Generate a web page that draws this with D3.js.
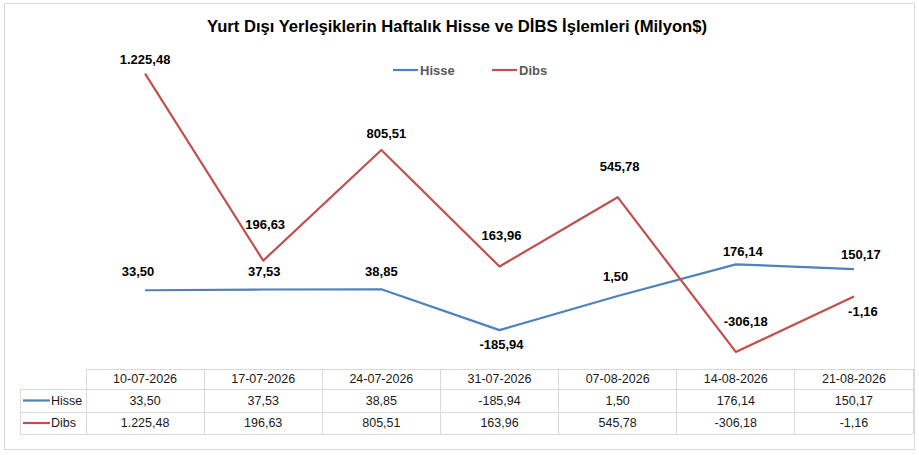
<!DOCTYPE html>
<html lang="tr">
<head>
    <meta charset="UTF-8">
    <title>Yurt Dışı Yerleşiklerin Haftalık Hisse ve DİBS İşlemleri</title>
    <script src="https://d3js.org/d3.v7.min.js"></script>
    <style>
        body { margin: 0; background: #fff; font-family: "Liberation Sans", Arial, sans-serif; }
        .lbl { font-size: 13px; font-weight: bold; fill: #000; }
        .tbl { font-size: 12.5px; fill: #1a1a1a; }
    </style>
</head>
<body>
    <svg id="chart" width="919" height="455"></svg>
    <script>
        // data
        let dates = ["10-07-2026", "17-07-2026", "24-07-2026", "31-07-2026", "07-08-2026", "14-08-2026", "21-08-2026"]
        let hisse = [33.50, 37.53, 38.85, -185.94, 1.50, 176.14, 150.17]
        let dibs = [1225.48, 196.63, 805.51, 163.96, 545.78, -306.18, -1.16]
        let seriesNames = ["Hisse", "Dibs"]

        // label nudges (px) relative to each point
        let hisseLabelDx = [-7, 1, 0, 2, -2, 7, 7]
        let hisseLabelDy = [-19, -18, -18, 14, -20, -13, -15]
        let dibsLabelDx = [0, 2, 5, 2, 2, 10, 9]
        let dibsLabelDy = [-14, -36, -16, -31, -31, -30, 15]

        let blue = "#4f81bd"
        let red = "#c0504d"
        let gridCol = "#d9d9d9"

        // Turkish number format: 1.225,48 and a plain hyphen for negatives
        let trLocale = d3.formatLocale({ decimal: ",", thousands: ".", grouping: [3], currency: ["", ""], minus: "-" })
        let fmt = trLocale.format(",.2f")

        let svg = d3.select("#chart")

        // outer border
        svg.append("rect").attr("x", 4.5).attr("y", 3.5).attr("width", 910).attr("height", 446)
            .attr("fill", "#fff").attr("stroke", gridCol)

        // title
        svg.append("text").attr("x", 457).attr("y", 32).attr("text-anchor", "middle")
            .attr("font-size", 16).attr("font-weight", "bold").attr("fill", "#000")
            .attr("textLength", 500).attr("lengthAdjust", "spacingAndGlyphs")
            .text("Yurt Dışı Yerleşiklerin Haftalık Hisse ve DİBS İşlemleri (Milyon$)")

        // legend
        let legendX = [393, 492]
        let colors = [blue, red]
        seriesNames.forEach((n, i) => {
            svg.append("line").attr("x1", legendX[i]).attr("x2", legendX[i] + 25)
                .attr("y1", 70).attr("y2", 70).attr("stroke", colors[i]).attr("stroke-width", 2.2)
            svg.append("text").attr("x", legendX[i] + 27).attr("y", 74.5)
                .attr("font-size", 13).attr("font-weight", "bold").attr("fill", "#595959").text(n)
        })

        // scales
        let x = d3.scaleBand().domain(dates).range([86, 913])
        let y = d3.scaleLinear().domain([-400, 1400]).range([369, 42])
        let cx = d => x(d) + x.bandwidth() / 2

        let line = d3.line().x((d, i) => cx(dates[i])).y(d => y(d))

        svg.append("path").datum(hisse).attr("d", line).attr("fill", "none")
            .attr("stroke", blue).attr("stroke-width", 2.2).attr("stroke-linejoin", "round")
        svg.append("path").datum(dibs).attr("d", line).attr("fill", "none")
            .attr("stroke", red).attr("stroke-width", 2.2).attr("stroke-linejoin", "round")

        // data labels
        function labels(vals, dxs, dys) {
            svg.append("g").selectAll("text").data(vals).enter().append("text")
                .attr("class", "lbl")
                .attr("text-anchor", "middle")
                .attr("dominant-baseline", "central")
                .attr("x", (d, i) => cx(dates[i]) + dxs[i])
                .attr("y", (d, i) => y(d) + dys[i])
                .text(d => fmt(d))
        }
        labels(hisse, hisseLabelDx, hisseLabelDy)
        labels(dibs, dibsLabelDx, dibsLabelDy)

        // data table
        let rowTop = [369, 389, 412, 434]
        let tableLeft = 20
        let t = svg.append("g")
        // horizontal rules
        t.append("line").attr("x1", 86).attr("x2", 913).attr("y1", rowTop[0]).attr("y2", rowTop[0])
        rowTop.slice(1).forEach(r => {
            t.append("line").attr("x1", tableLeft).attr("x2", 913).attr("y1", r).attr("y2", r)
        })
        // vertical rules
        x.domain().forEach(d => {
            t.append("line").attr("x1", x(d)).attr("x2", x(d)).attr("y1", rowTop[0]).attr("y2", rowTop[3])
        })
        t.append("line").attr("x1", 913).attr("x2", 913).attr("y1", rowTop[0]).attr("y2", rowTop[3])
        t.append("line").attr("x1", tableLeft).attr("x2", tableLeft).attr("y1", rowTop[1]).attr("y2", rowTop[3])
        t.selectAll("line").attr("stroke", gridCol).attr("stroke-width", 1).attr("shape-rendering", "crispEdges")

        // header row
        t.selectAll("text.hdr").data(dates).enter().append("text")
            .attr("class", "tbl hdr").attr("text-anchor", "middle").attr("dominant-baseline", "central")
            .attr("x", d => cx(d)).attr("y", (rowTop[0] + rowTop[1]) / 2)
            .text(d => d)

        let rows = [hisse, dibs]
        rows.forEach((vals, r) => {
            let yc = (rowTop[r + 1] + rowTop[r + 2]) / 2
            t.append("line").attr("x1", 23).attr("x2", 50).attr("y1", yc).attr("y2", yc)
                .attr("stroke", colors[r]).attr("stroke-width", 2.2)
            t.append("text").attr("class", "tbl").attr("x", 51).attr("y", yc)
                .attr("dominant-baseline", "central").text(seriesNames[r])
            t.selectAll("text.r" + r).data(vals).enter().append("text")
                .attr("class", "tbl r" + r).attr("text-anchor", "middle").attr("dominant-baseline", "central")
                .attr("x", (d, i) => cx(dates[i])).attr("y", yc)
                .text(d => fmt(d))
        })
    </script>
</body>
</html>
